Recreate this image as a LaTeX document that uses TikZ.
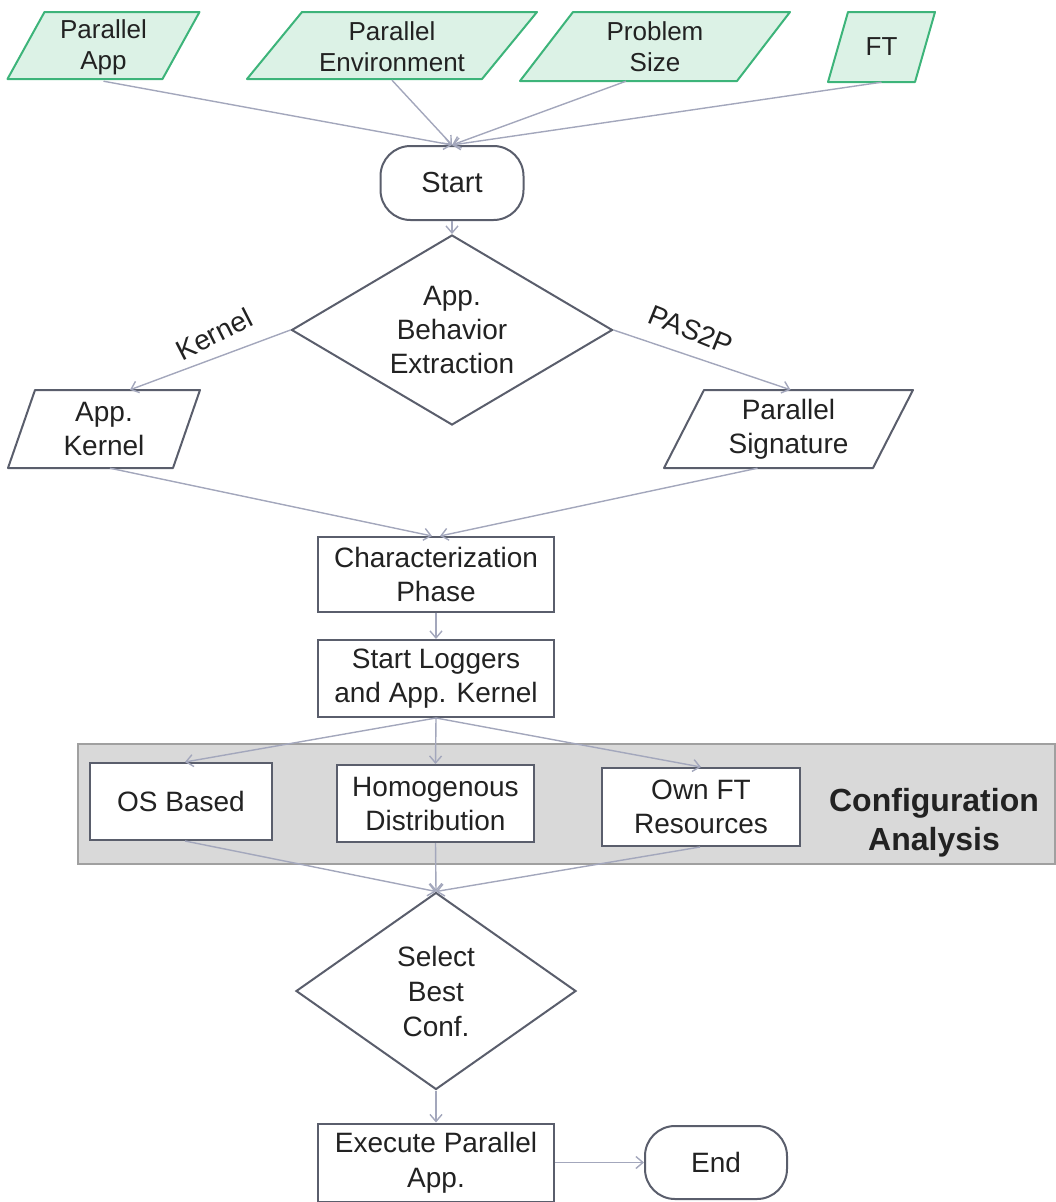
\documentclass[tikz,border=0pt]{standalone}
\usepackage{fontspec}
\setmainfont{Liberation Sans}
\usetikzlibrary{shapes.geometric,arrows.meta}

\definecolor{iofill}{HTML}{DCF2E6}
\definecolor{ioline}{HTML}{3DB47A}
\definecolor{boxline}{HTML}{5A5E6C}
\definecolor{flowline}{HTML}{A3A7BC}
\definecolor{panelfill}{HTML}{D9D9D9}
\definecolor{panelline}{HTML}{A0A0A0}
\definecolor{ink}{HTML}{222222}

\tikzset{
  txt/.style={font=\fontsize{26}{31}\selectfont, align=center, text=ink},
  bigtxt/.style={font=\fontsize{28}{34}\selectfont, align=center, text=ink},
  iobox/.style={draw=ioline, fill=iofill, line width=2pt, line join=round},
  datbox/.style={draw=boxline, fill=white, line width=2pt, line join=round},
  procbox/.style={bigtxt, draw=boxline, fill=white, line width=2pt, inner sep=0},
  termbox/.style={procbox, rounded corners=30pt},
  decbox/.style={bigtxt, draw=boxline, fill=white, line width=2pt, diamond, inner sep=0},
  flow/.style={draw=flowline, line width=1.4pt, -{Straight Barb[length=7pt,width=12pt]}},
  edgelbl/.style={bigtxt, inner sep=0}
}

% slanted input/output box: name, style, cx, cy, width, height, slant, text, text style
\newcommand{\slantbox}[9]{%
  \draw[#2] ({#3-#5/2+#7/2},{#4-#6/2}) -- ({#3+#5/2+#7/2},{#4-#6/2})
    -- ({#3+#5/2-#7/2},{#4+#6/2}) -- ({#3-#5/2-#7/2},{#4+#6/2}) -- cycle;
  \node[#9, minimum width=#5, minimum height=#6, inner sep=0] (#1) at (#3,#4) {#8};
}

\begin{document}
\begin{tikzpicture}[x=1pt,y=-1pt]
\useasboundingbox (0,0) rectangle (1056,1202);

% configuration analysis panel
\node[draw=panelline, fill=panelfill, line width=1.2pt, minimum width=977, minimum height=120, inner sep=0] (panel) at (566.5,804) {};
\node[align=center, text=ink, font=\fontsize{32}{39}\selectfont\bfseries] (cfg) at (934,823) {Configuration\\Analysis};

% inputs
\slantbox{pa}{iobox}{103.5}{45.5}{155}{67}{37}{Parallel\\App}{txt, yshift=-2pt}
\slantbox{pe}{iobox}{392}{45.5}{235}{67}{55}{Parallel\\Environment}{txt, yshift=-1pt}
\slantbox{ps}{iobox}{655}{46.5}{217}{69}{53}{Problem\\Size}{txt}
\slantbox{ft}{iobox}{881.5}{47}{87}{70}{20}{FT}{txt}

\node[termbox, minimum width=143, minimum height=74, font=\fontsize{29}{34}\selectfont] (start) at (452,183) {Start};

\node[decbox, aspect=1.69, minimum width=321, minimum height=190] (abe) at (452,330) {App.\\Behavior\\Extraction};

\slantbox{ak}{datbox}{104}{429}{165}{78}{27}{App.\\Kernel}{bigtxt}
\slantbox{sig}{datbox}{788.5}{429}{209}{78}{40}{Parallel\\Signature}{bigtxt}

\node[procbox, minimum width=236, minimum height=75] (char) at (436,574.5) {Characterization\\Phase};
\node[procbox, minimum width=236, minimum height=77] (logs) at (436,678.5) {Start Loggers\\and App. Kernel};

\node[procbox, minimum width=182, minimum height=77] (os) at (181,801.5) {OS Based};
\node[procbox, minimum width=197, minimum height=77] (hom) at (435.5,803.5) {Homogenous\\Distribution};
\node[procbox, minimum width=198, minimum height=78] (own) at (701,807) {Own FT\\Resources};

\node[decbox, aspect=1.42, minimum width=280, minimum height=197, font=\fontsize{28}{35}\selectfont] (sel) at (436,991) {Select\\Best\\Conf.};

\node[procbox, minimum width=236, minimum height=78, font=\fontsize{28}{35}\selectfont] (exe) at (436,1162.5) {Execute Parallel\\App.};
\node[termbox, minimum width=142, minimum height=73, font=\fontsize{28}{35}\selectfont] (end) at (716,1162.5) {End};

% connectors
\draw[flow] (pa.south) -- (start.north);
\draw[flow] (pe.south) -- (start.north);
\draw[flow] ([xshift=-29pt]ps.south) -- (start.north);
\draw[flow] (ft.south) -- (start.north);
\draw[flow] (start.south) -- (abe.north);

\draw[flow] (abe.west) -- ([xshift=26pt]ak.north);
\draw[flow] (abe.east) -- ([xshift=2pt]sig.north);
\node[edgelbl, rotate=27] (lk) at (214,334) {Kernel};
\node[edgelbl, rotate=-22] (lp) at (691,330) {PAS2P};

\draw[flow] ([xshift=6pt]ak.south) -- ([xshift=-4pt]char.north);
\draw[flow] ([xshift=-31pt]sig.south) -- ([xshift=4pt]char.north);
\draw[flow] (char.south) -- (logs.north);

\draw[flow] (logs.south) -- ([xshift=4pt]os.north);
\draw[flow] (logs.south) -- (hom.north);
\draw[flow] (logs.south) -- (own.north);

\draw[flow] ([xshift=4pt]os.south) -- (sel.north);
\draw[flow] (hom.south) -- (sel.north);
\draw[flow] ([xshift=-1pt]own.south) -- (sel.north);

\draw[flow] (sel.south) -- (exe.north);
\draw[flow] (exe.east) -- (end.west);
\end{tikzpicture}
\end{document}
